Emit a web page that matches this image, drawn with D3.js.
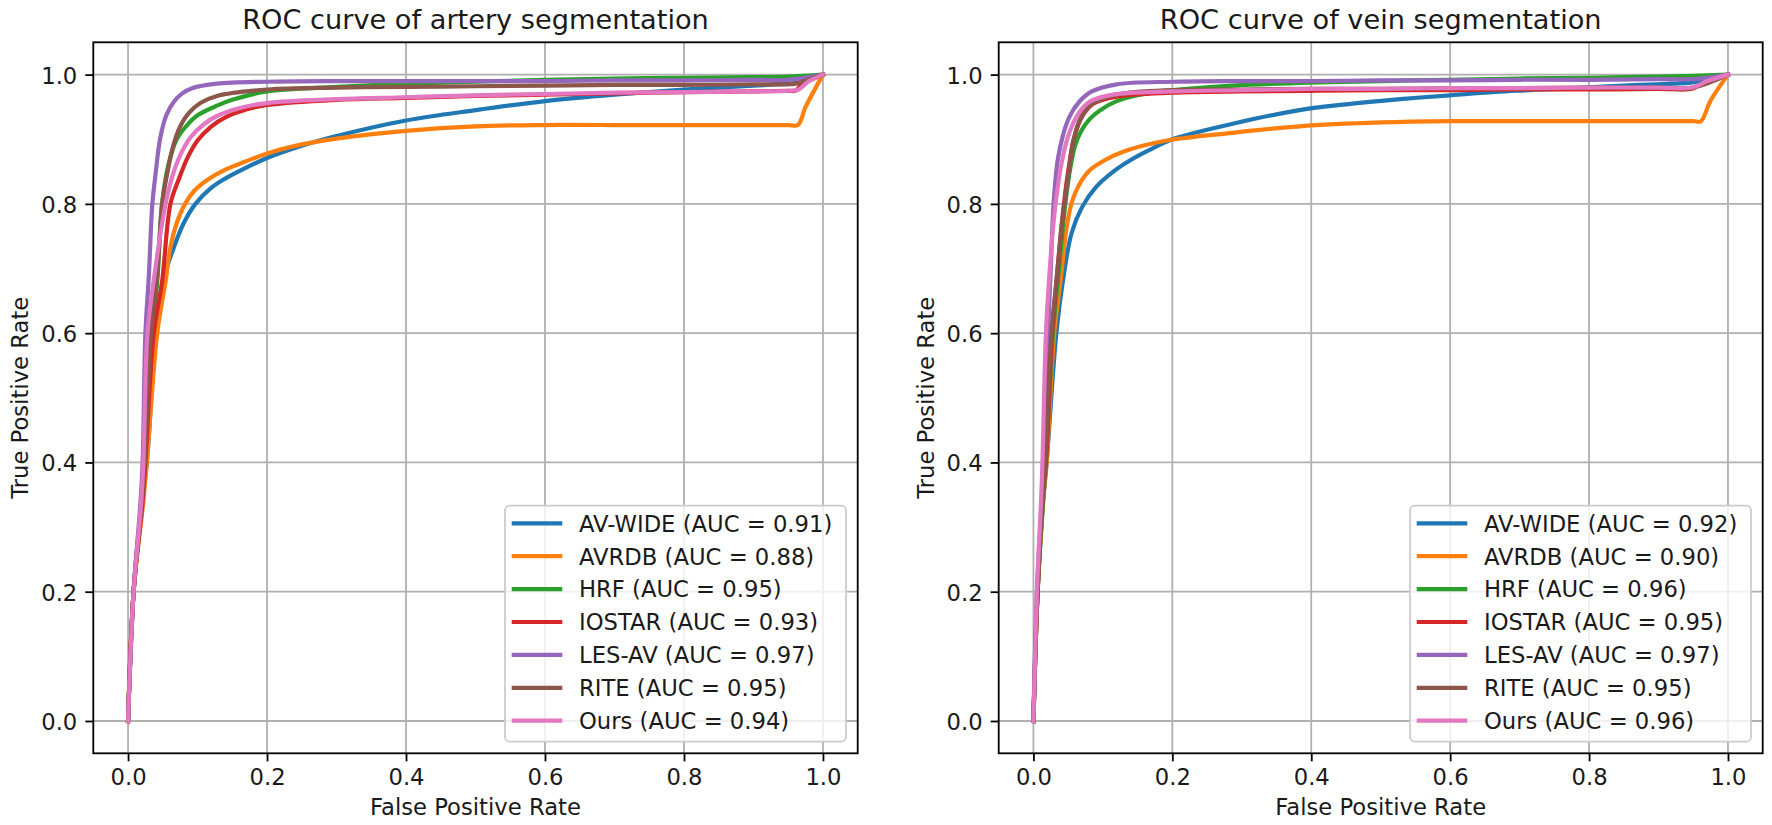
<!DOCTYPE html>
<html>
<head>
<meta charset="utf-8">
<script src="https://cdn.jsdelivr.net/npm/d3@7"></script>
<style>
  html, body { margin: 0; padding: 0; background: #fff; }
  svg { display: block; font-family: "DejaVu Sans", sans-serif; }
</style>
</head>
<body>
<svg id="chart" width="1772" height="825"></svg>
<script>
// ---------------- data ----------------
const seriesNames = ["AV-WIDE", "AVRDB", "HRF", "IOSTAR", "LES-AV", "RITE", "Ours"];
const seriesColors = ["#1f77b4", "#ff7f0e", "#2ca02c", "#d62728", "#9467bd", "#8c564b", "#e377c2"];
const xTicks = [0.0, 0.2, 0.4, 0.6, 0.8, 1.0];
const yTicks = [0.0, 0.2, 0.4, 0.6, 0.8, 1.0];
const panelTitles = ["ROC curve of artery segmentation", "ROC curve of vein segmentation"];
const xLabel = "False Positive Rate";
const yLabel = "True Positive Rate";

const arteryAUC = [0.91, 0.88, 0.95, 0.93, 0.97, 0.95, 0.94];
const veinAUC   = [0.92, 0.90, 0.96, 0.95, 0.97, 0.95, 0.96];

// artery ROC points [FPR, TPR]
const arteryAvWide = [[0,0],[0.008,0.2],[0.02,0.34],[0.027,0.4],[0.04,0.6],[0.05,0.68],[0.066,0.733],[0.08,0.77],[0.097,0.8],[0.12,0.825],[0.138,0.838],[0.17,0.856],[0.2,0.871],[0.25,0.89],[0.3,0.905],[0.4,0.929],[0.5,0.945],[0.6,0.959],[0.7,0.969],[0.8,0.977],[0.9,0.983],[0.95,0.986],[0.97,0.988],[1,1]];
const arteryAvrdb  = [[0,0],[0.008,0.2],[0.022,0.34],[0.027,0.4],[0.042,0.6],[0.054,0.68],[0.061,0.733],[0.07,0.77],[0.082,0.8],[0.095,0.82],[0.114,0.837],[0.14,0.853],[0.17,0.866],[0.2,0.878],[0.25,0.892],[0.3,0.901],[0.4,0.913],[0.5,0.92],[0.6,0.922],[0.7,0.922],[0.8,0.922],[0.9,0.922],[0.95,0.922],[0.964,0.922],[0.975,0.95],[1,1]];
const arteryHrf    = [[0,0],[0.008,0.2],[0.02,0.34],[0.024,0.4],[0.034,0.6],[0.042,0.68],[0.049,0.8],[0.058,0.86],[0.07,0.9],[0.085,0.922],[0.1,0.937],[0.128,0.952],[0.15,0.961],[0.2,0.974],[0.3,0.981],[0.4,0.986],[0.5,0.989],[0.6,0.992],[0.7,0.994],[0.8,0.995],[0.9,0.996],[0.95,0.997],[1,1]];
const arteryIostar = [[0,0],[0.008,0.2],[0.021,0.34],[0.025,0.4],[0.037,0.6],[0.049,0.68],[0.061,0.8],[0.073,0.838],[0.085,0.87],[0.1,0.898],[0.12,0.92],[0.14,0.934],[0.17,0.946],[0.2,0.953],[0.3,0.961],[0.4,0.964],[0.5,0.967],[0.6,0.969],[0.7,0.971],[0.8,0.973],[0.9,0.974],[0.95,0.975],[0.96,0.975],[0.97,0.985],[1,1]];
const arteryLesAv  = [[0,0],[0.008,0.2],[0.018,0.34],[0.021,0.4],[0.025,0.6],[0.03,0.69],[0.035,0.8],[0.04,0.85],[0.046,0.9],[0.055,0.937],[0.066,0.958],[0.078,0.971],[0.092,0.979],[0.128,0.986],[0.2,0.989],[0.3,0.99],[0.4,0.99],[0.5,0.99],[0.6,0.99],[0.7,0.991],[0.8,0.991],[0.9,0.992],[0.95,0.992],[1,1]];
const arteryRite   = [[0,0],[0.008,0.2],[0.02,0.34],[0.024,0.4],[0.033,0.6],[0.042,0.69],[0.049,0.8],[0.056,0.845],[0.065,0.89],[0.075,0.92],[0.087,0.94],[0.104,0.956],[0.128,0.967],[0.2,0.977],[0.3,0.98],[0.4,0.981],[0.5,0.982],[0.6,0.983],[0.7,0.984],[0.8,0.984],[0.9,0.985],[0.95,0.985],[0.96,0.986],[1,1]];
const arteryOurs   = [[0,0],[0.008,0.2],[0.019,0.34],[0.022,0.4],[0.028,0.6],[0.038,0.69],[0.054,0.8],[0.063,0.84],[0.075,0.875],[0.09,0.903],[0.11,0.924],[0.128,0.936],[0.16,0.948],[0.2,0.956],[0.3,0.962],[0.4,0.965],[0.5,0.968],[0.6,0.97],[0.7,0.972],[0.8,0.973],[0.9,0.974],[0.95,0.975],[0.965,0.977],[0.98,0.99],[1,1]];

// vein ROC points [FPR, TPR]
const veinAvWide = [[0,0],[0.006,0.2],[0.014,0.341],[0.019,0.4],[0.033,0.6],[0.043,0.685],[0.055,0.755],[0.07,0.795],[0.09,0.826],[0.115,0.85],[0.14,0.868],[0.168,0.884],[0.2,0.9],[0.287,0.924],[0.383,0.945],[0.45,0.954],[0.528,0.962],[0.6,0.968],[0.695,0.975],[0.78,0.979],[0.85,0.983],[0.92,0.986],[0.949,0.988],[1,1]];
const veinAvrdb  = [[0,0],[0.006,0.2],[0.014,0.341],[0.019,0.4],[0.03,0.6],[0.04,0.69],[0.048,0.765],[0.056,0.805],[0.066,0.83],[0.08,0.851],[0.1,0.866],[0.13,0.881],[0.192,0.898],[0.287,0.91],[0.383,0.92],[0.5,0.926],[0.6,0.928],[0.7,0.928],[0.8,0.928],[0.9,0.928],[0.95,0.928],[0.961,0.928],[0.975,0.96],[1,1]];
const veinHrf    = [[0,0],[0.006,0.2],[0.014,0.341],[0.018,0.4],[0.028,0.6],[0.036,0.69],[0.042,0.76],[0.047,0.81],[0.053,0.855],[0.06,0.89],[0.069,0.913],[0.08,0.93],[0.096,0.945],[0.12,0.959],[0.15,0.968],[0.183,0.974],[0.287,0.983],[0.383,0.987],[0.5,0.99],[0.6,0.992],[0.7,0.994],[0.8,0.995],[0.9,0.997],[0.95,0.998],[1,1]];
const veinIostar = [[0,0],[0.006,0.2],[0.013,0.341],[0.018,0.4],[0.027,0.6],[0.034,0.69],[0.04,0.76],[0.045,0.81],[0.05,0.85],[0.058,0.9],[0.07,0.935],[0.086,0.955],[0.12,0.966],[0.2,0.972],[0.3,0.974],[0.4,0.975],[0.5,0.976],[0.6,0.976],[0.7,0.977],[0.8,0.977],[0.9,0.978],[0.948,0.978],[0.96,0.985],[1,1]];
const veinLesAv  = [[0,0],[0.005,0.2],[0.012,0.341],[0.015,0.4],[0.021,0.6],[0.025,0.7],[0.029,0.8],[0.035,0.868],[0.043,0.908],[0.052,0.935],[0.066,0.958],[0.084,0.974],[0.12,0.985],[0.2,0.989],[0.3,0.99],[0.4,0.99],[0.5,0.991],[0.6,0.991],[0.7,0.992],[0.8,0.992],[0.9,0.993],[0.95,0.993],[1,1]];
const veinRite   = [[0,0],[0.006,0.2],[0.013,0.341],[0.017,0.4],[0.026,0.6],[0.034,0.69],[0.04,0.76],[0.046,0.81],[0.051,0.85],[0.058,0.9],[0.069,0.935],[0.086,0.956],[0.12,0.969],[0.2,0.976],[0.3,0.977],[0.4,0.978],[0.5,0.978],[0.6,0.979],[0.7,0.979],[0.8,0.98],[0.9,0.98],[0.95,0.98],[1,1]];
const veinOurs   = [[0,0],[0.005,0.2],[0.011,0.341],[0.013,0.4],[0.018,0.6],[0.023,0.69],[0.028,0.76],[0.033,0.81],[0.04,0.86],[0.05,0.905],[0.065,0.94],[0.081,0.958],[0.115,0.969],[0.2,0.974],[0.3,0.976],[0.4,0.978],[0.5,0.978],[0.6,0.979],[0.7,0.979],[0.8,0.98],[0.9,0.98],[0.949,0.98],[0.97,0.99],[1,1]];

const arterySeries = [arteryAvWide, arteryAvrdb, arteryHrf, arteryIostar, arteryLesAv, arteryRite, arteryOurs];
const veinSeries   = [veinAvWide, veinAvrdb, veinHrf, veinIostar, veinLesAv, veinRite, veinOurs];

// ---------------- layout ----------------
const FS = 22.7;        // 10pt
const TITLE_FS = 27.2;  // 12pt
const panels = [
  { left: 93.3,  right: 857.7,  top: 42.3, bottom: 753.3, title: panelTitles[0], series: arterySeries, auc: arteryAUC },
  { left: 998.7, right: 1762.7, top: 42.3, bottom: 753.3, title: panelTitles[1], series: veinSeries,   auc: veinAUC }
];

const svg = d3.select("#chart");
const textColor = "#1a1a1a";

panels.forEach(p => {
  const x = d3.scaleLinear().domain([-0.05, 1.05]).range([p.left, p.right]);
  const y = d3.scaleLinear().domain([-0.05, 1.05]).range([p.bottom, p.top]);
  const g = svg.append("g");

  // grid
  const grid = g.append("g").attr("stroke", "#b0b0b0").attr("stroke-width", 1.8);
  grid.selectAll("line.vx").data(xTicks).join("line")
    .attr("x1", d => x(d)).attr("x2", d => x(d))
    .attr("y1", p.top).attr("y2", p.bottom);
  grid.selectAll("line.hy").data(yTicks).join("line")
    .attr("x1", p.left).attr("x2", p.right)
    .attr("y1", d => y(d)).attr("y2", d => y(d));

  // curves
  const line = d3.line().x(d => x(d[0])).y(d => y(d[1])).curve(d3.curveCatmullRom.alpha(0.5));
  p.series.forEach((s, i) => {
    g.append("path").datum(s)
      .attr("d", line)
      .attr("fill", "none")
      .attr("stroke", seriesColors[i])
      .attr("stroke-width", 4.2)
      .attr("stroke-linejoin", "round")
      .attr("stroke-linecap", "square");
  });

  // axes using d3 axis generators
  const xAxis = d3.axisBottom(x).tickValues(xTicks).tickFormat(d3.format(".1f")).tickSize(8).tickPadding(8);
  const yAxis = d3.axisLeft(y).tickValues(yTicks).tickFormat(d3.format(".1f")).tickSize(8).tickPadding(8);
  const gx = g.append("g").attr("transform", `translate(0,${p.bottom})`).call(xAxis);
  const gy = g.append("g").attr("transform", `translate(${p.left},0)`).call(yAxis);
  [gx, gy].forEach(a => {
    a.select(".domain").remove();
    a.selectAll(".tick line").attr("stroke", "#000").attr("stroke-width", 1.8);
    a.selectAll(".tick text").attr("fill", textColor).attr("font-size", FS)
      .attr("font-family", "DejaVu Sans");
  });
  gx.selectAll(".tick text").attr("dy", null).attr("y", 785 - p.bottom);
  gy.selectAll(".tick text").attr("dy", null).attr("y", 8.4);

  // spines
  g.append("rect")
    .attr("x", p.left).attr("y", p.top)
    .attr("width", p.right - p.left).attr("height", p.bottom - p.top)
    .attr("fill", "none").attr("stroke", "#000").attr("stroke-width", 1.8);

  // title
  g.append("text")
    .attr("x", (p.left + p.right) / 2).attr("y", 29)
    .attr("text-anchor", "middle").attr("font-size", TITLE_FS).attr("fill", textColor)
    .text(p.title);

  // axis labels
  g.append("text")
    .attr("x", (p.left + p.right) / 2).attr("y", 815)
    .attr("text-anchor", "middle").attr("font-size", FS).attr("fill", textColor)
    .text(xLabel);
  g.append("text")
    .attr("transform", `translate(${p.left - 65},${(p.top + p.bottom) / 2}) rotate(-90)`)
    .attr("text-anchor", "middle").attr("font-size", FS).attr("fill", textColor)
    .text(yLabel);

  // legend
  const lgW = 341, lgH = 236;
  const lgX = p.right - 11.7 - lgW, lgY = p.bottom - 11.6 - lgH;
  const lg = g.append("g").attr("transform", `translate(${lgX},${lgY})`);
  lg.append("rect").attr("width", lgW).attr("height", lgH)
    .attr("rx", 5).attr("ry", 5)
    .attr("fill", "#fff").attr("fill-opacity", 0.8)
    .attr("stroke", "#cccccc").attr("stroke-width", 1.8);
  const rows = lg.selectAll("g.row").data(seriesNames).join("g")
    .attr("transform", (d, i) => `translate(0,${17.6 + i * 32.9})`);
  rows.append("line")
    .attr("x1", 6.7).attr("x2", 57.3).attr("y1", 0).attr("y2", 0)
    .attr("stroke", (d, i) => seriesColors[i]).attr("stroke-width", 4.2);
  rows.append("text")
    .attr("x", 74).attr("y", 8.3)
    .attr("font-size", FS).attr("fill", textColor)
    .text((d, i) => `${d} (AUC = ${p.auc[i].toFixed(2)})`);
});
</script>
</body>
</html>
